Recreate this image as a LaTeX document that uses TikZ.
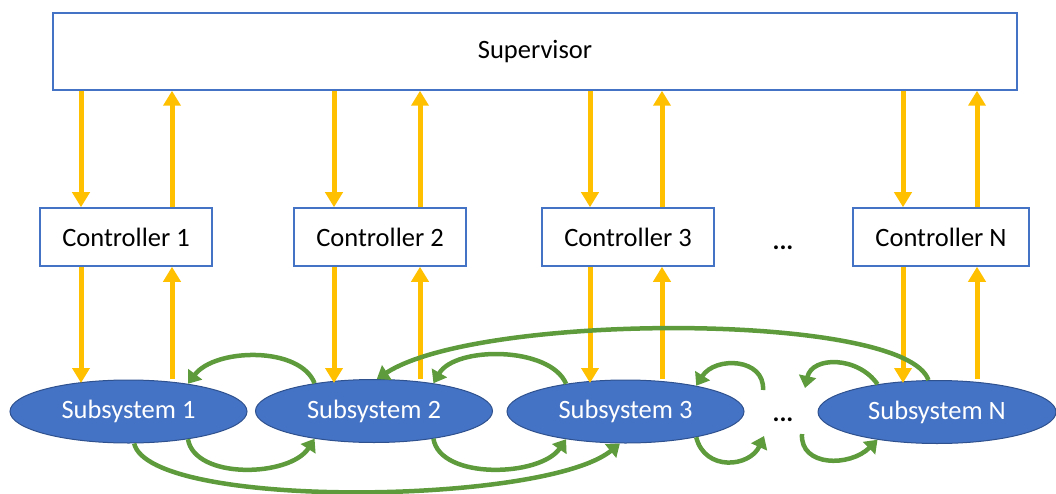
\documentclass[tikz,border=0pt]{standalone}
\usepackage{fontspec}
\setmainfont{Carlito}
\usetikzlibrary{arrows.meta,shapes.geometric}
\definecolor{boxblue}{HTML}{4472C4}
\definecolor{darkblue}{HTML}{2F528F}
\definecolor{ayellow}{HTML}{FFC000}
\definecolor{agreen}{HTML}{5E9B3C}
\tikzset{
  box/.style={draw=boxblue, line width=1.5pt, fill=white, inner sep=0pt, font=\fontsize{26.5}{30}\selectfont},
  subsys/.style={ellipse, draw=darkblue, line width=1pt, fill=boxblue, text=white, inner sep=0pt,
    minimum width=237pt, minimum height=63pt, font=\fontsize{26.5}{30}\selectfont},
  ya/.style={draw=ayellow, line width=5pt, -{Triangle[width=17pt,length=15pt]}},
  ga/.style={draw=agreen, line width=4.5pt, -{Triangle[width=17pt,length=12pt]}},
  dots/.style={font=\fontsize{26}{30}\selectfont\bfseries, inner sep=0pt, anchor=base}
}
\begin{document}
\begin{tikzpicture}[x=1pt,y=-1pt]
\useasboundingbox (0,0) rectangle (1056,494);
\node[box, minimum width=964pt, minimum height=77pt] (sup) at (535,51.5) {\raisebox{-2pt}{Supervisor}};
\node[box, minimum width=172pt, minimum height=58pt] (c1) at (126,237) {Controller 1};
\node[box, minimum width=172pt, minimum height=58pt] (c2) at (380,237) {Controller 2};
\node[box, minimum width=172pt, minimum height=58pt] (c3) at (628,237) {Controller 3};
\node[box, minimum width=176pt, minimum height=58pt] (cn) at (941,237) {Controller N};
\node[dots] (d1) at (783,249) {...};

\node[subsys] (s1) at (128.5,411.5) {Subsystem 1};
\node[subsys] (s2) at (374,411) {Subsystem 2};
\node[subsys] (s3) at (625.5,411.5) {Subsystem 3};
\node[subsys, minimum width=238pt] (sn) at (937,412) {Subsystem N};
\node[dots] (d2) at (783,421) {...};

% yellow arrows
\foreach \c/\s/\d/\u in {c1/s1/81/172, c2/s2/334/420, c3/s3/590/662, cn/sn/903/977} {
  \draw[ya] (sup.south -| \d,0) -- (\c.north -| \d,0);
  \draw[ya] (\c.north -| \u,0) -- (sup.south -| \u,0);
  \draw[ya] (\c.south -| \d,0) -- (\d,383);
  \draw[ya] (\u,379) -- (\c.south -| \u,0);
}

% green arrows
\coordinate (t7) at (763,390);
\coordinate (b8) at (764,436);
\coordinate (t9) at (805,388);
\coordinate (b10) at (802,434);

\draw[ga] (s2.155) .. controls (300,346) and (215,348) .. (s1.25);
\draw[ga] (s1.-25) .. controls (195,480) and (290,477) .. (s2.-155);
\draw[ga] (s1.-80) .. controls (150,510) and (545,505) .. (s3.-100);
\draw[ga] (sn.105) .. controls (905,312) and (480,312) .. (s2.85);
\draw[ga] (s3.155) .. controls (550,346) and (455,346) .. (s2.25);
\draw[ga] (s2.-25) .. controls (440,480) and (540,477) .. (s3.-155);
\draw[ga] (t7) .. controls (765,358) and (715,356) .. (s3.20);
\draw[ga] (s3.-20) .. controls (705,472) and (750,467) .. (b8);
\draw[ga] (sn.155) .. controls (858,356) and (812,356) .. (t9);
\draw[ga] (b10) .. controls (800,467) and (850,467) .. (sn.-155);
\end{tikzpicture}
\end{document}
